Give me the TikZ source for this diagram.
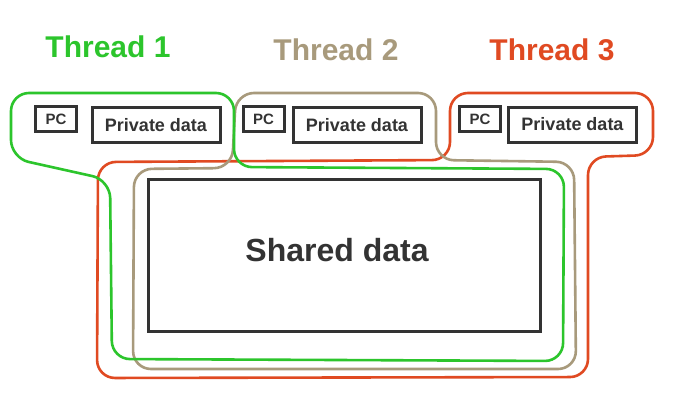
\documentclass[tikz,border=0pt]{standalone}
\usepackage{fontspec}
\setmainfont{Liberation Sans}
\definecolor{tgreen}{HTML}{2CC52C}
\definecolor{ttan}{HTML}{A89A7C}
\definecolor{tred}{HTML}{E04A22}
\definecolor{boxgray}{HTML}{333333}
\begin{document}
\begin{tikzpicture}[x=1pt,y=-1pt,
  title/.style={font=\fontsize{30}{36}\selectfont\bfseries, inner sep=0pt},
  pcbox/.style={draw=boxgray, line width=3pt, minimum width=41pt, minimum height=25pt, inner sep=0pt, font=\fontsize{15}{18}\selectfont\bfseries, text=boxgray},
  pdbox/.style={draw=boxgray, line width=3pt, minimum width=128pt, minimum height=35pt, inner sep=0pt, font=\fontsize{18}{22}\selectfont\bfseries, text=boxgray},
  loop/.style={line width=2.6pt, rounded corners=18pt}
  ]
\useasboundingbox[fill=white] (0,0) rectangle (683,400);

% titles
\node[title, text=tgreen] (t1) at (108,47) {Thread 1};
\node[title, text=ttan] (t2) at (336,50) {Thread 2};
\node[title, text=tred] (t3) at (552,50) {Thread 3};

% boxes
\node[pcbox] (pc1) at (56,119) {PC};
\node[pdbox] (pd1) at (156,125) {Private data};
\node[pcbox] (pc2) at (263.5,119) {PC};
\node[pdbox] (pd2) at (357,125) {Private data};
\node[pcbox] (pc3) at (480,119) {PC};
\node[pdbox] (pd3) at (572.5,124.5) {Private data};
\node[draw=boxgray, line width=3pt, minimum width=392pt, minimum height=152pt, inner sep=0pt] (shared) at (344,255) {};
\node[font=\fontsize{32}{38}\selectfont\bfseries, text=boxgray, inner sep=0pt] (sharedlabel) at (337,250) {Shared data};

% thread loops
\draw[loop, draw=tred] (450,93) -- (653,93) -- (653,155) -- (588,157) -- (588,377) -- (97,378) -- (98,162) -- (450,160) -- cycle;
\draw[loop, draw=ttan] (236,93) -- (436,93) -- (436,160) -- (574,162) -- (576,369) -- (133,369) -- (134,169) -- (232,168) -- cycle;
\draw[loop, draw=tgreen] (11,93) -- (234,93) -- (234,167) -- (564,169) -- (563,361) -- (112,359) -- (110,180) -- (11,158) -- cycle;
\end{tikzpicture}
\end{document}
